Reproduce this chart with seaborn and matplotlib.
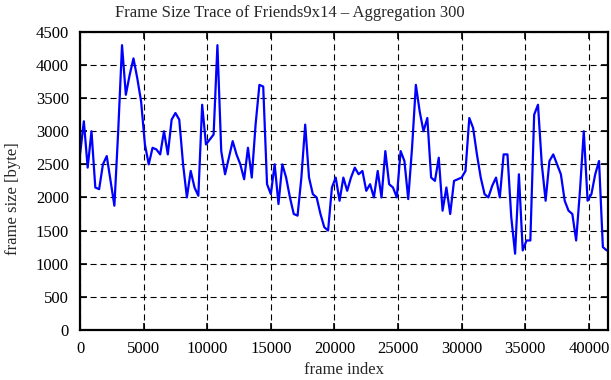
import numpy as np
import pandas as pd
import matplotlib
matplotlib.use("Agg")
import matplotlib.pyplot as plt
import seaborn as sns

# frame size trace, aggregation window of 300 frames
window = 300
frame_sizes = [
    2650, 3150, 2450, 3000, 2150, 2125, 2500, 2625, 2250, 1875,
    3000, 4300, 3550, 3850, 4100, 3800, 3450, 2800, 2500, 2750,
    2725, 2650, 3000, 2650, 3175, 3275, 3175, 2500, 2000, 2400,
    2150, 2025, 3400, 2800, 2875, 2950, 4300, 2700, 2350, 2600,
    2850, 2650, 2500, 2275, 2750, 2300, 3100, 3700, 3675, 2200,
    2050, 2500, 1900, 2500, 2300, 2000, 1750, 1725, 2300, 3100,
    2300, 2050, 2000, 1750, 1550, 1500, 2150, 2300, 1950, 2300,
    2100, 2300, 2450, 2350, 2400, 2100, 2200, 2000, 2400, 2000,
    2700, 2200, 2150, 2000, 2700, 2550, 1975, 2750, 3700, 3300,
    3000, 3200, 2300, 2250, 2600, 1800, 2150, 1750, 2250, 2275,
    2300, 2400, 3200, 3050, 2650, 2300, 2050, 2000, 2175, 2300,
    2000, 2650, 2650, 1700, 1150, 2350, 1200, 1350, 1350, 3250,
    3400, 2500, 1950, 2550, 2650, 2500, 2350, 1950, 1800, 1750,
    1350, 2100, 3000, 1950, 2050, 2350, 2550, 1250, 1200,
]
frame_index = np.arange(len(frame_sizes)) * window

x_ticks = list(range(0, 40001, 5000))
y_ticks = list(range(0, 4501, 500))

df = pd.DataFrame({"frame index": frame_index, "frame size": frame_sizes})

sns.set_theme(style="ticks")
plt.rcParams["font.family"] = ["Liberation Serif", "DejaVu Serif"]

fig = plt.figure(figsize=(6.11, 3.8), dpi=100)
ax = fig.add_axes([0.131, 0.132, 0.864, 0.784])

sns.lineplot(data=df, x="frame index", y="frame size", color="#0000ff",
             linewidth=1.6, ax=ax)

ax.set_xlim(0, 41500)
ax.set_ylim(0, 4500)
ax.set_xticks(x_ticks)
ax.set_yticks(y_ticks)
ax.grid(True, color="black", linestyle=(0, (5.5, 3.5)), linewidth=0.8)
ax.tick_params(direction="in", length=5, width=1.2, top=True, right=True,
               labelsize=12, colors="black")
ax.tick_params(axis="x", pad=8)
ax.tick_params(axis="y", pad=8)
for s in ax.spines.values():
    s.set_linewidth(1.6)
    s.set_color("black")
ax.set_xlabel("")
ax.set_ylabel("")

# gnuplot-style labels, placed on the canvas
fig.text(0.475, 0.966, "Frame Size Trace of Friends9x14 \u2013 Aggregation 300",
         fontsize=12, ha="center", va="center")
fig.text(0.563, 0.026, "frame index", fontsize=12, ha="center", va="center")
fig.text(0.022, 0.476, "frame size [byte]", fontsize=12, ha="center",
         va="center", rotation=90)

fig.savefig("out.png", dpi=100)
